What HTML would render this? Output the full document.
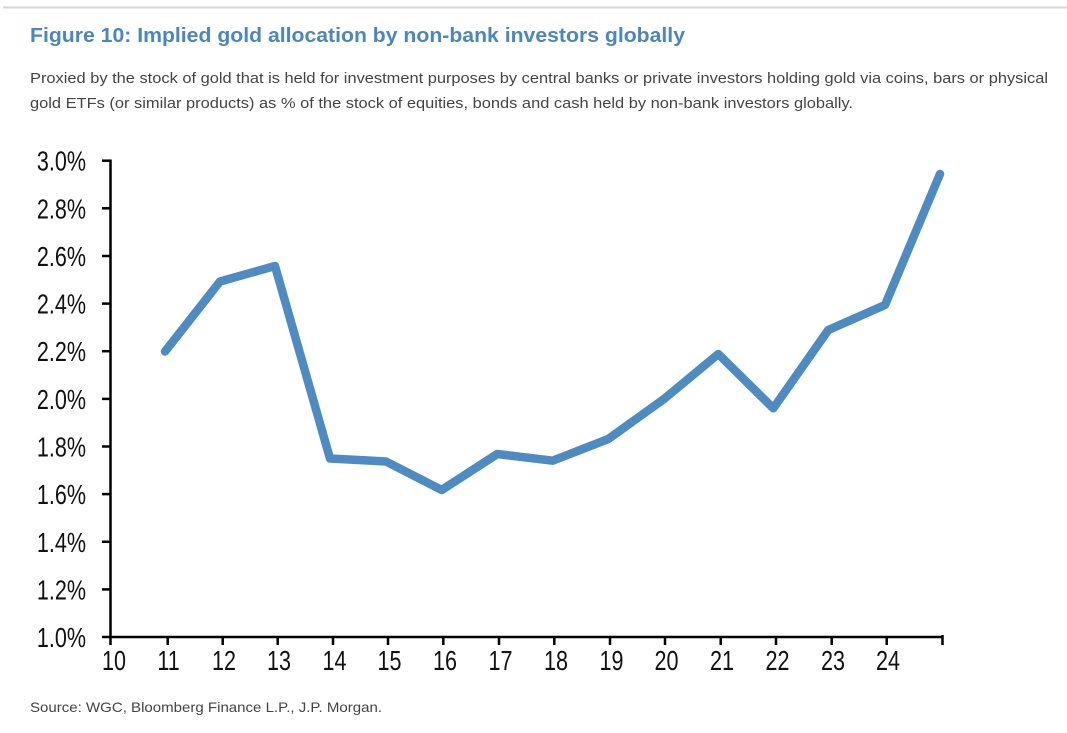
<!DOCTYPE html>
<html><head><meta charset="utf-8"><style>
html,body{margin:0;padding:0;background:#fff;}
svg{display:block;}
</style></head><body>
<svg width="1067" height="733" viewBox="0 0 1067 733" xmlns="http://www.w3.org/2000/svg">
<rect width="1067" height="733" fill="#fff"/>
<line x1="3" y1="7.5" x2="1067" y2="7.5" stroke="#d6d6d6" stroke-width="2"/>
<text x="30" y="42" font-family="Liberation Sans, Arial, sans-serif" font-weight="bold" font-size="20" fill="#4a86c0" textLength="655" lengthAdjust="spacingAndGlyphs">Figure 10: Implied gold allocation by non-bank investors globally</text>
<text x="30" y="83" font-family="Liberation Sans, Arial, sans-serif" font-size="15" fill="#444" textLength="1018" lengthAdjust="spacingAndGlyphs">Proxied by the stock of gold that is held for investment purposes by central banks or private investors holding gold via coins, bars or physical</text>
<text x="30" y="108" font-family="Liberation Sans, Arial, sans-serif" font-size="15" fill="#444" textLength="823" lengthAdjust="spacingAndGlyphs">gold ETFs (or similar products) as % of the stock of equities, bonds and cash held by non-bank investors globally.</text>
<text x="30" y="712" font-family="Liberation Sans, Arial, sans-serif" font-size="14" fill="#444" textLength="352" lengthAdjust="spacingAndGlyphs">Source: WGC, Bloomberg Finance L.P., J.P. Morgan.</text>

<g stroke="#000" stroke-width="2.5" fill="none">
<line x1="110.5" y1="159.5" x2="110.5" y2="637"/>
<line x1="109.5" y1="637" x2="943.5" y2="637"/>
<line x1="942.5" y1="635" x2="942.5" y2="645"/>
</g>
<g stroke="#000" stroke-width="2.5">
<line x1="102" y1="160.7" x2="111" y2="160.7"/>
<line x1="102" y1="208.3" x2="111" y2="208.3"/>
<line x1="102" y1="256" x2="111" y2="256"/>
<line x1="102" y1="303.6" x2="111" y2="303.6"/>
<line x1="102" y1="351.2" x2="111" y2="351.2"/>
<line x1="102" y1="398.9" x2="111" y2="398.9"/>
<line x1="102" y1="446.5" x2="111" y2="446.5"/>
<line x1="102" y1="494.1" x2="111" y2="494.1"/>
<line x1="102" y1="541.8" x2="111" y2="541.8"/>
<line x1="102" y1="589.4" x2="111" y2="589.4"/>
<line x1="102" y1="637" x2="111" y2="637"/>
<line x1="110.5" y1="637" x2="110.5" y2="645"/>
<line x1="167.7" y1="637" x2="167.7" y2="645"/>
<line x1="222.7" y1="637" x2="222.7" y2="645"/>
<line x1="277.7" y1="637" x2="277.7" y2="645"/>
<line x1="333" y1="637" x2="333" y2="645"/>
<line x1="388" y1="637" x2="388" y2="645"/>
<line x1="443.3" y1="637" x2="443.3" y2="645"/>
<line x1="499" y1="637" x2="499" y2="645"/>
<line x1="554.3" y1="637" x2="554.3" y2="645"/>
<line x1="610" y1="637" x2="610" y2="645"/>
<line x1="665" y1="637" x2="665" y2="645"/>
<line x1="720.7" y1="637" x2="720.7" y2="645"/>
<line x1="776" y1="637" x2="776" y2="645"/>
<line x1="831.7" y1="637" x2="831.7" y2="645"/>
<line x1="886.7" y1="637" x2="886.7" y2="645"/>
</g>

<g font-family="Liberation Sans, Arial, sans-serif" font-size="28" fill="#111" text-anchor="end">
<g transform="translate(86,0) scale(0.77,1)">
<text x="0" y="170.7">3.0%</text>
<text x="0" y="218.3">2.8%</text>
<text x="0" y="266">2.6%</text>
<text x="0" y="313.6">2.4%</text>
<text x="0" y="361.2">2.2%</text>
<text x="0" y="408.9">2.0%</text>
<text x="0" y="456.5">1.8%</text>
<text x="0" y="504.1">1.6%</text>
<text x="0" y="551.8">1.4%</text>
<text x="0" y="599.4">1.2%</text>
<text x="0" y="647">1.0%</text>
</g>
</g>
<g font-family="Liberation Sans, Arial, sans-serif" font-size="28" fill="#111" text-anchor="middle">
<text transform="translate(114,670) scale(0.77,1)">10</text>
<text transform="translate(168.5,670) scale(0.77,1)">11</text>
<text transform="translate(224,670) scale(0.77,1)">12</text>
<text transform="translate(279,670) scale(0.77,1)">13</text>
<text transform="translate(334.5,670) scale(0.77,1)">14</text>
<text transform="translate(389.5,670) scale(0.77,1)">15</text>
<text transform="translate(445,670) scale(0.77,1)">16</text>
<text transform="translate(500.5,670) scale(0.77,1)">17</text>
<text transform="translate(556,670) scale(0.77,1)">18</text>
<text transform="translate(611.5,670) scale(0.77,1)">19</text>
<text transform="translate(666.5,670) scale(0.77,1)">20</text>
<text transform="translate(722,670) scale(0.77,1)">21</text>
<text transform="translate(777.5,670) scale(0.77,1)">22</text>
<text transform="translate(833,670) scale(0.77,1)">23</text>
<text transform="translate(888,670) scale(0.77,1)">24</text>
</g>

<polyline fill="none" stroke="#4d8bc2" stroke-width="8.5" stroke-linejoin="round" stroke-linecap="round"
points="165,351.5 220,281.5 275,266 330,458.5 386,461.5 441.7,490 497.3,454 552.7,460.7 608.3,439 664,399 718.3,354 773.3,408.3 828.3,330 885,305 940,174"/>
</svg>
</body></html>
